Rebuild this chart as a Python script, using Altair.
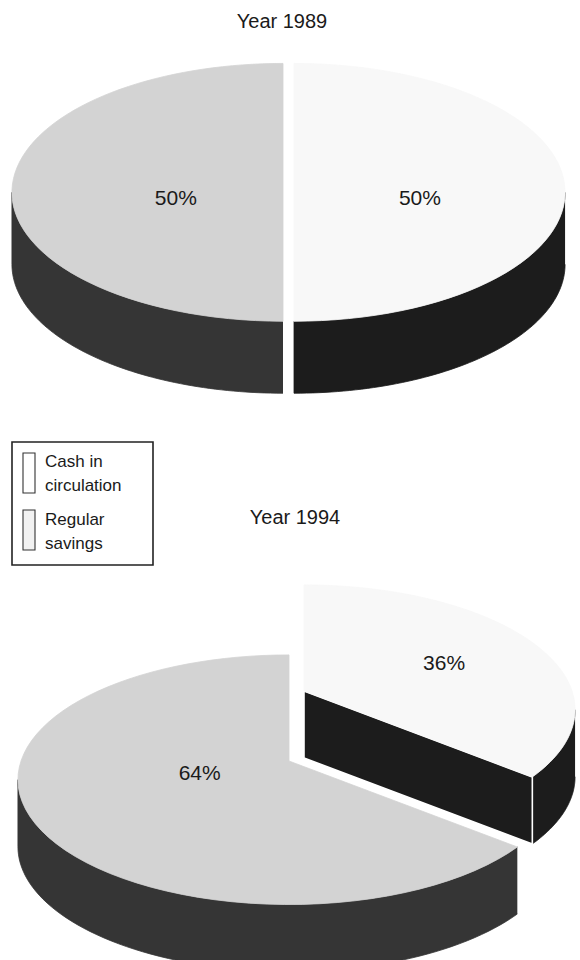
import altair as alt
import pandas as pd

# ---- values -------------------------------------------------------------
YEARS = ["1989", "1994"]
CATEGORIES = ["Cash in circulation", "Regular savings"]
SHARE_1989 = [50, 50]
SHARE_1994 = [36, 64]
SHARES = {"1989": SHARE_1989, "1994": SHARE_1994}

# ---- layout (canvas pixels) ---------------------------------------------
W, H = 580, 960
N = 72  # segments used for each arc

# centre, radii, perspective factor, depth of the disc and title anchor
PIE = {
    "1989": dict(cx=289, cy=173, rx=268, ry=126, p=0.15, depth=72, tx=282, ty=22),
    "1994": dict(cx=289, cy=761, rx=268, ry=122, p=0.15, depth=67, tx=295, ty=518),
}
# explode offset of each slice and placement of its percentage label
SLICE = {
    ("1989", "Cash in circulation"): dict(dx=5, dy=0, lk=0.47, ldy=26),
    ("1989", "Regular savings"): dict(dx=-6, dy=0, lk=0.40, ldy=26),
    ("1994", "Cash in circulation"): dict(dx=15, dy=-70, lk=0.60, ldy=3),
    ("1994", "Regular savings"): dict(dx=0, dy=0, lk=0.36, ldy=-6),
}

TOP_FILL = {"Cash in circulation": "#f8f8f8", "Regular savings": "#d3d3d3"}
SIDE_FILL = {"Cash in circulation": "#1c1c1c", "Regular savings": "#353535"}
SHADES = [c + " top" for c in CATEGORIES] + [c + " side" for c in CATEGORIES]
SHADE_COLORS = [TOP_FILL[c] for c in CATEGORIES] + [SIDE_FILL[c] for c in CATEGORIES]

FONT = "Liberation Sans"
INK = "#1a1a1a"

# ---- tables built from the values ----------------------------------------
rows = []
for year in YEARS:
    for rank, (cat, val) in enumerate(zip(CATEGORIES, SHARES[year])):
        g, s = PIE[year], SLICE[(year, cat)]
        rows.append(dict(year=year, category=cat, value=val, rank=rank,
                         cx=g["cx"], cy=g["cy"], rx=g["rx"], ry=g["ry"], p=g["p"],
                         depth=g["depth"], **s))
slices = pd.DataFrame(rows)
titles = pd.DataFrame({"year": YEARS,
                       "tx": [PIE[y]["tx"] for y in YEARS],
                       "ty": [PIE[y]["ty"] for y in YEARS]})
legend_rows = pd.DataFrame({"category": CATEGORIES, "rank": list(range(len(CATEGORIES)))})

X_SCALE = alt.Scale(domain=[0, W], nice=False, zero=False)
Y_SCALE = alt.Scale(domain=[0, H], nice=False, zero=False, reverse=True)
SHADE_SCALE = alt.Scale(domain=SHADES, range=SHADE_COLORS)


def angles(chart):
    """Start/end angle of each slice, clockwise from twelve o'clock."""
    return (chart
            .transform_joinaggregate(total="sum(value)", groupby=["year"])
            .transform_window(cum="sum(value)", groupby=["year"],
                              sort=[alt.SortField("rank")], frame=[None, 0])
            .transform_calculate(a0="2*PI*(datum.cum - datum.value)/datum.total")
            .transform_calculate(a1="2*PI*datum.cum/datum.total"))


def project(chart):
    """Tilted-disc projection of (th, r, z) into canvas coordinates."""
    return (chart
            .transform_calculate(u="datum.r*sin(datum.th)")
            .transform_calculate(v="datum.r*cos(datum.th)")
            .transform_calculate(px="datum.cx + datum.dx + datum.rx*datum.u/(1 + datum.p*datum.v)")
            .transform_calculate(py="datum.cy + datum.dy - datum.ry*datum.v/(1 + datum.p*datum.v) + datum.z"))


def polygons(chart, part, edge=None):
    enc = dict(
        x=alt.X("px:Q", scale=X_SCALE, axis=None),
        y=alt.Y("py:Q", scale=Y_SCALE, axis=None),
        fill=alt.Fill("shade:N", scale=SHADE_SCALE, legend=None),
        detail="poly:N",
        order="k:Q",
    )
    if edge is None:
        enc["stroke"] = alt.Stroke("shade:N", scale=SHADE_SCALE, legend=None)
        mark = dict(strokeWidth=0.8)
    else:
        mark = dict(stroke=edge, strokeWidth=1.6)
    return (project(chart)
            .transform_calculate(poly=f"datum.year + '|' + datum.category + '|{part}|' + (datum.face || 0)")
            .mark_line(interpolate="linear", **mark)
            .encode(**enc))


base = angles(alt.Chart(slices))

# curved outer walls, only the part facing the viewer
walls = (base
         .transform_calculate(s0="max(datum.a0, acos(-datum.p))")
         .transform_calculate(s1="min(datum.a1, 2*PI - acos(-datum.p))")
         .transform_filter("datum.s1 > datum.s0")
         .transform_calculate(k=f"sequence(0, {2 * N + 2})")
         .transform_flatten(["k"])
         .transform_calculate(th=f"datum.k <= {N} ? datum.s0 + (datum.s1 - datum.s0)*datum.k/{N}"
                                 f" : datum.s1 - (datum.s1 - datum.s0)*(datum.k - {N + 1})/{N}")
         .transform_calculate(r="1")
         .transform_calculate(z=f"datum.k <= {N} ? 0 : datum.depth")
         .transform_calculate(shade="datum.category + ' side'"))
walls = polygons(walls, "wall")

# flat cut faces along the slice edges, where they turn to the viewer
faces = (base
         .transform_calculate(face="sequence(0, 2)")
         .transform_flatten(["face"])
         .transform_filter("(datum.face == 0 && sin(datum.a0) < -1e-6) || (datum.face == 1 && sin(datum.a1) > 1e-6)")
         .transform_calculate(th="datum.face == 0 ? datum.a0 : datum.a1")
         .transform_calculate(k="sequence(0, 5)")
         .transform_flatten(["k"])
         .transform_calculate(r="(datum.k == 1 || datum.k == 2) ? 1 : 0")
         .transform_calculate(z="(datum.k == 2 || datum.k == 3) ? datum.depth : 0")
         .transform_calculate(shade="datum.category + ' side'"))
faces = polygons(faces, "cut", edge="white")

# top surfaces
tops = (base
        .transform_calculate(k=f"sequence(0, {N + 3})")
        .transform_flatten(["k"])
        .transform_calculate(th=f"datum.a0 + (datum.a1 - datum.a0)*clamp(datum.k - 1, 0, {N})/{N}")
        .transform_calculate(r=f"(datum.k == 0 || datum.k == {N + 2}) ? 0 : 1")
        .transform_calculate(z="0")
        .transform_calculate(shade="datum.category + ' top'"))
tops = polygons(tops, "top")

# percentage labels
labels = project(base
                 .transform_calculate(th="(datum.a0 + datum.a1)/2")
                 .transform_calculate(r="datum.lk")
                 .transform_calculate(z="datum.ldy")
                 .transform_calculate(label="datum.value + '%'")
                 ).mark_text(font=FONT, fontSize=21, color=INK, align="center", baseline="middle").encode(
    x=alt.X("px:Q", scale=X_SCALE, axis=None),
    y=alt.Y("py:Q", scale=Y_SCALE, axis=None),
    text="label:N",
)

# year titles
year_titles = alt.Chart(titles).transform_calculate(
    title="'Year ' + datum.year"
).mark_text(font=FONT, fontSize=20, color=INK, align="center", baseline="middle").encode(
    x=alt.X("tx:Q", scale=X_SCALE, axis=None),
    y=alt.Y("ty:Q", scale=Y_SCALE, axis=None),
    text="title:N",
)

# legend
legend_box = alt.Chart(legend_rows).transform_filter("datum.rank == 0").mark_rect(
    fill="white", stroke="#222222", strokeWidth=1.6
).encode(x=alt.value(12), x2=alt.value(153), y=alt.value(442), y2=alt.value(565))

legend_swatch = alt.Chart(legend_rows).transform_calculate(
    sy0="453 + datum.rank*57"
).transform_calculate(sy1="datum.sy0 + 40").mark_rect(
    stroke="#333333", strokeWidth=1.1
).encode(
    x=alt.value(23), x2=alt.value(35),
    y=alt.Y("sy0:Q", scale=Y_SCALE, axis=None), y2="sy1:Q",
    fill=alt.Fill("category:N", scale=alt.Scale(domain=CATEGORIES, range=["#ffffff", "#f1f1f1"]), legend=None),
)

legend_text = alt.Chart(legend_rows).transform_calculate(
    ty="462 + datum.rank*58"
).transform_calculate(
    label="slice(datum.category, 0, lastindexof(datum.category, ' ')) + '\\n' + "
          "slice(datum.category, lastindexof(datum.category, ' ') + 1)"
).mark_text(font=FONT, fontSize=17, color=INK, align="left", baseline="middle",
            lineBreak="\n", lineHeight=24).encode(
    x=alt.value(45),
    y=alt.Y("ty:Q", scale=Y_SCALE, axis=None),
    text="label:N",
)

chart = alt.layer(
    walls, faces, tops, labels, year_titles, legend_box, legend_swatch, legend_text
).resolve_scale(fill="independent", stroke="independent").properties(
    width=W, height=H, padding=0, autosize=alt.AutoSizeParams(type="none"), background="white"
).configure_view(stroke=None)

chart.save("out.html", embed_options={"renderer": "svg", "actions": False})
